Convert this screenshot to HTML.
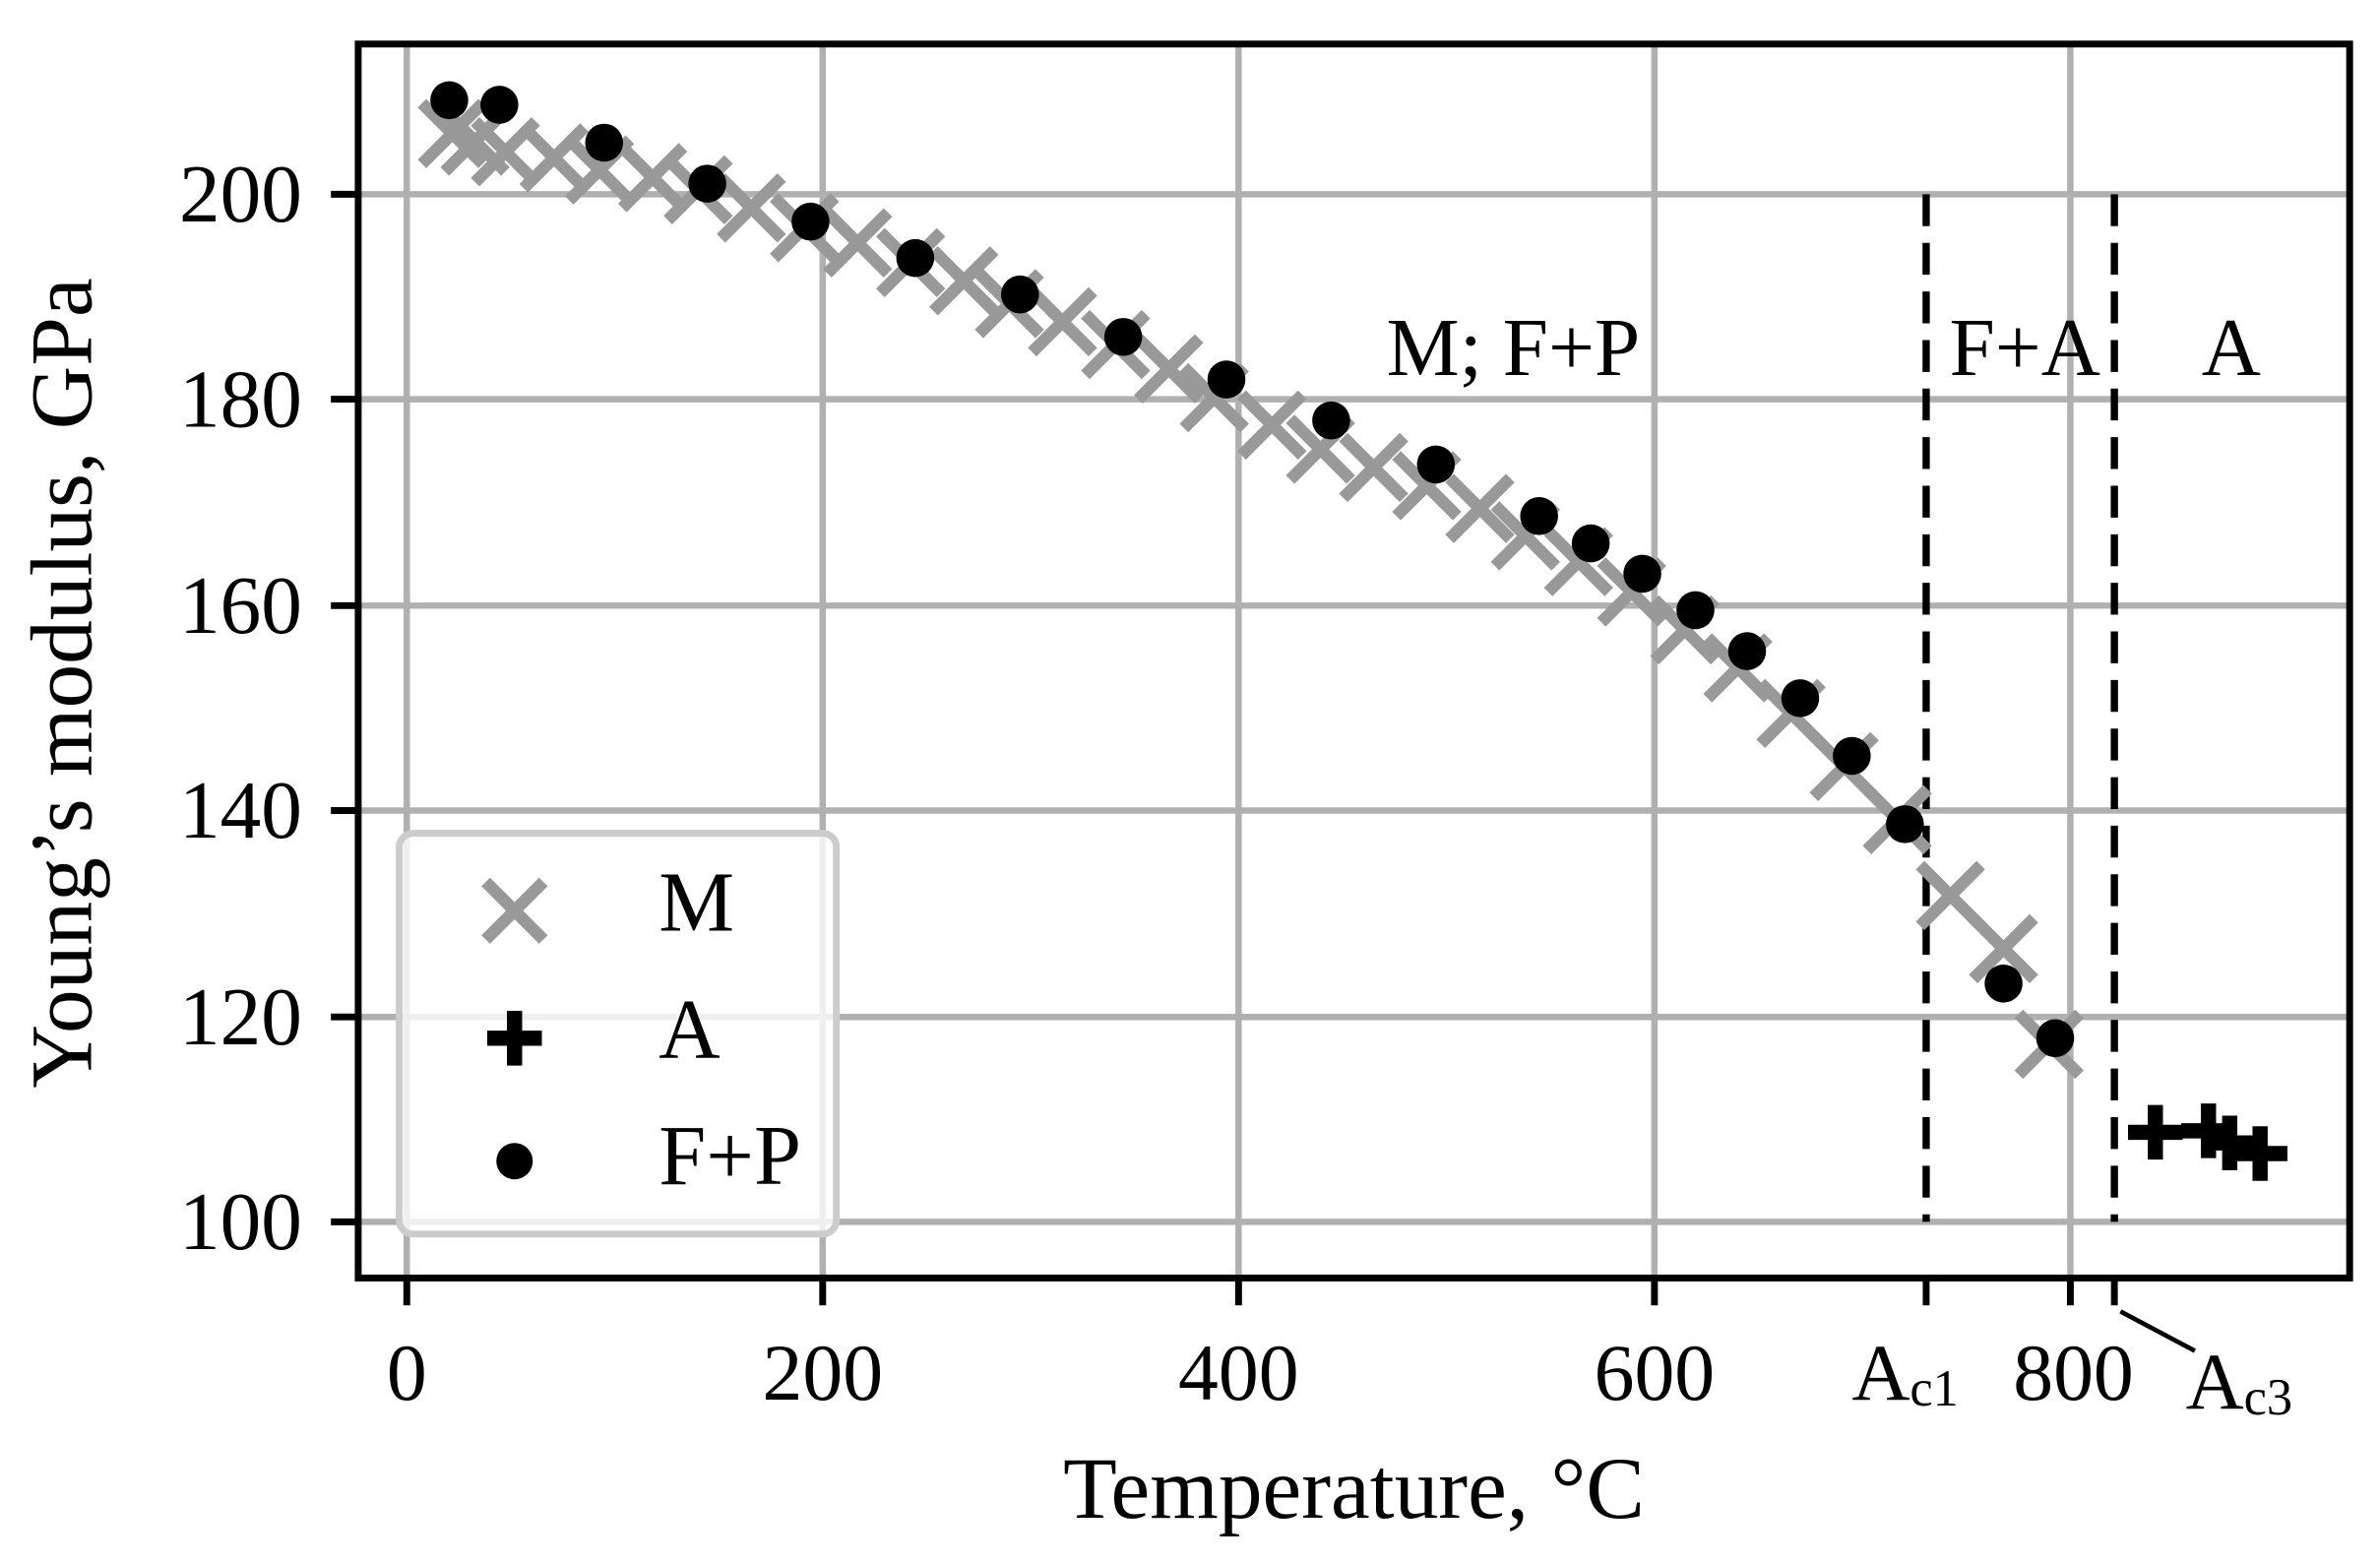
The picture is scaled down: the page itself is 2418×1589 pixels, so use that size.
<!DOCTYPE html>
<html><head><meta charset="utf-8"><style>html,body{margin:0;padding:0;background:#fff}svg{display:block}</style></head>
<body>
<svg width="2418" height="1589" viewBox="0 0 1568 1030.4" xmlns="http://www.w3.org/2000/svg" font-family="'Liberation Serif', serif">
<rect width="1568" height="1031" fill="#fff"/>
<g stroke="#b0b0b0" stroke-width="4.2">
<line x1="268" y1="29" x2="268" y2="842"/><line x1="542" y1="29" x2="542" y2="842"/><line x1="816" y1="29" x2="816" y2="842"/><line x1="1090" y1="29" x2="1090" y2="842"/><line x1="1364" y1="29" x2="1364" y2="842"/>
<line x1="236" y1="128" x2="1548" y2="128"/><line x1="236" y1="263" x2="1548" y2="263"/><line x1="236" y1="399" x2="1548" y2="399"/><line x1="236" y1="534" x2="1548" y2="534"/><line x1="236" y1="670" x2="1548" y2="670"/><line x1="236" y1="805" x2="1548" y2="805"/>
</g>
<g stroke="#000" stroke-width="4.8" stroke-dasharray="21,11">
<line x1="1269" y1="128" x2="1269" y2="805"/><line x1="1393" y1="128" x2="1393" y2="805"/>
</g>
<g stroke="#999" stroke-width="8" id="crosses">
</g>
<g fill="#000" id="dots"></g>
<g stroke="#000" stroke-width="10" id="pluses"></g>
<rect x="236" y="29" width="1312" height="813" fill="none" stroke="#000" stroke-width="4.5"/>
<g stroke="#000" stroke-width="4.5">
<line x1="268" y1="842" x2="268" y2="860"/><line x1="542" y1="842" x2="542" y2="860"/><line x1="816" y1="842" x2="816" y2="860"/><line x1="1090" y1="842" x2="1090" y2="860"/><line x1="1364" y1="842" x2="1364" y2="860"/><line x1="1269" y1="842" x2="1269" y2="860"/><line x1="1393" y1="842" x2="1393" y2="860"/>
<line x1="218" y1="128" x2="236" y2="128"/><line x1="218" y1="263" x2="236" y2="263"/><line x1="218" y1="399" x2="236" y2="399"/><line x1="218" y1="534" x2="236" y2="534"/><line x1="218" y1="670" x2="236" y2="670"/><line x1="218" y1="805" x2="236" y2="805"/>
<line x1="1397" y1="864" x2="1446" y2="890" stroke-width="3"/>
</g>
<rect x="263" y="549" width="288" height="264" rx="9" fill="#fff" fill-opacity="0.8" stroke="#ccc" stroke-width="4.5"/>
<g stroke="#999" stroke-width="8"><line x1="320" y1="581" x2="358" y2="619"/><line x1="320" y1="619" x2="358" y2="581"/></g>
<g stroke="#000" stroke-width="10"><line x1="321" y1="684" x2="357" y2="684"/><line x1="339" y1="666" x2="339" y2="702"/></g>
<circle cx="339" cy="765" r="12" fill="#000"/>
<g font-size="54" fill="#000">
<text x="434" y="613" font-size="56">M</text><text x="434" y="697" font-size="56">A</text><text x="434" y="780" font-size="56">F+P</text>
<text x="997" y="247" text-anchor="middle">M; F+P</text><text x="1334" y="247" text-anchor="middle">F+A</text><text x="1470" y="247" text-anchor="middle">A</text>
<g text-anchor="middle" font-size="53"><text x="268" y="922">0</text><text x="542" y="922">200</text><text x="816" y="922">400</text><text x="1090" y="922">600</text><text x="1366" y="922">800</text></g>
<text x="1220" y="922" font-size="53">A<tspan font-size="34" dy="4">c1</tspan></text>
<text x="1440" y="928" font-size="53">A<tspan font-size="34" dy="4">c3</tspan></text>
<g text-anchor="end" font-size="54"><text x="199" y="146">200</text><text x="199" y="281">180</text><text x="199" y="417">160</text><text x="199" y="552">140</text><text x="199" y="688">120</text><text x="199" y="823">100</text></g>
<text x="892" y="1000" text-anchor="middle" font-size="58">Temperature, °C</text>
<text transform="translate(60,450) rotate(-90)" text-anchor="middle" font-size="58">Young’s modulus, GPa</text>
</g>
<script>
var ns="http://www.w3.org/2000/svg";
var C=[[298,88],[313,93],[333,100],[365,104],[395,112],[430,117],[460,125],[495,137],[530,150],[565,160],[600,173],[635,185],[665,200],[700,212],[735,227],[770,243],[800,262],[838,280],[870,296],[905,308],[940,320],[975,335],[1005,353],[1040,370],[1075,390],[1110,415],[1145,440],[1180,470],[1215,505],[1250,540],[1285,590],[1320,625],[1350,688]];
var D=[[296,66],[329,69],[398,94],[466,121],[534,146],[603,170],[672,194],[740,222],[808,250],[877,277],[946,306],[1014,340],[1048,358],[1082,378],[1117,402],[1151,429],[1186,460],[1220,498],[1255,543],[1320,648],[1354,684]];
var P=[[1420,746],[1455,745],[1469,753],[1489,760]];
var g=document.getElementById('crosses'),h=20;
C.forEach(function(p){[[-h,-h,h,h],[-h,h,h,-h]].forEach(function(d){var l=document.createElementNS(ns,'line');l.setAttribute('x1',p[0]+d[0]);l.setAttribute('y1',p[1]+d[1]);l.setAttribute('x2',p[0]+d[2]);l.setAttribute('y2',p[1]+d[3]);g.appendChild(l);});});
var gd=document.getElementById('dots');
D.forEach(function(p){var c=document.createElementNS(ns,'circle');c.setAttribute('cx',p[0]);c.setAttribute('cy',p[1]);c.setAttribute('r',12.5);gd.appendChild(c);});
var gp=document.getElementById('pluses'),k=18;
P.forEach(function(p){[[-k,0,k,0],[0,-k,0,k]].forEach(function(d){var l=document.createElementNS(ns,'line');l.setAttribute('x1',p[0]+d[0]);l.setAttribute('y1',p[1]+d[1]);l.setAttribute('x2',p[0]+d[2]);l.setAttribute('y2',p[1]+d[3]);gp.appendChild(l);});});
</script>
</svg>
</body></html>
